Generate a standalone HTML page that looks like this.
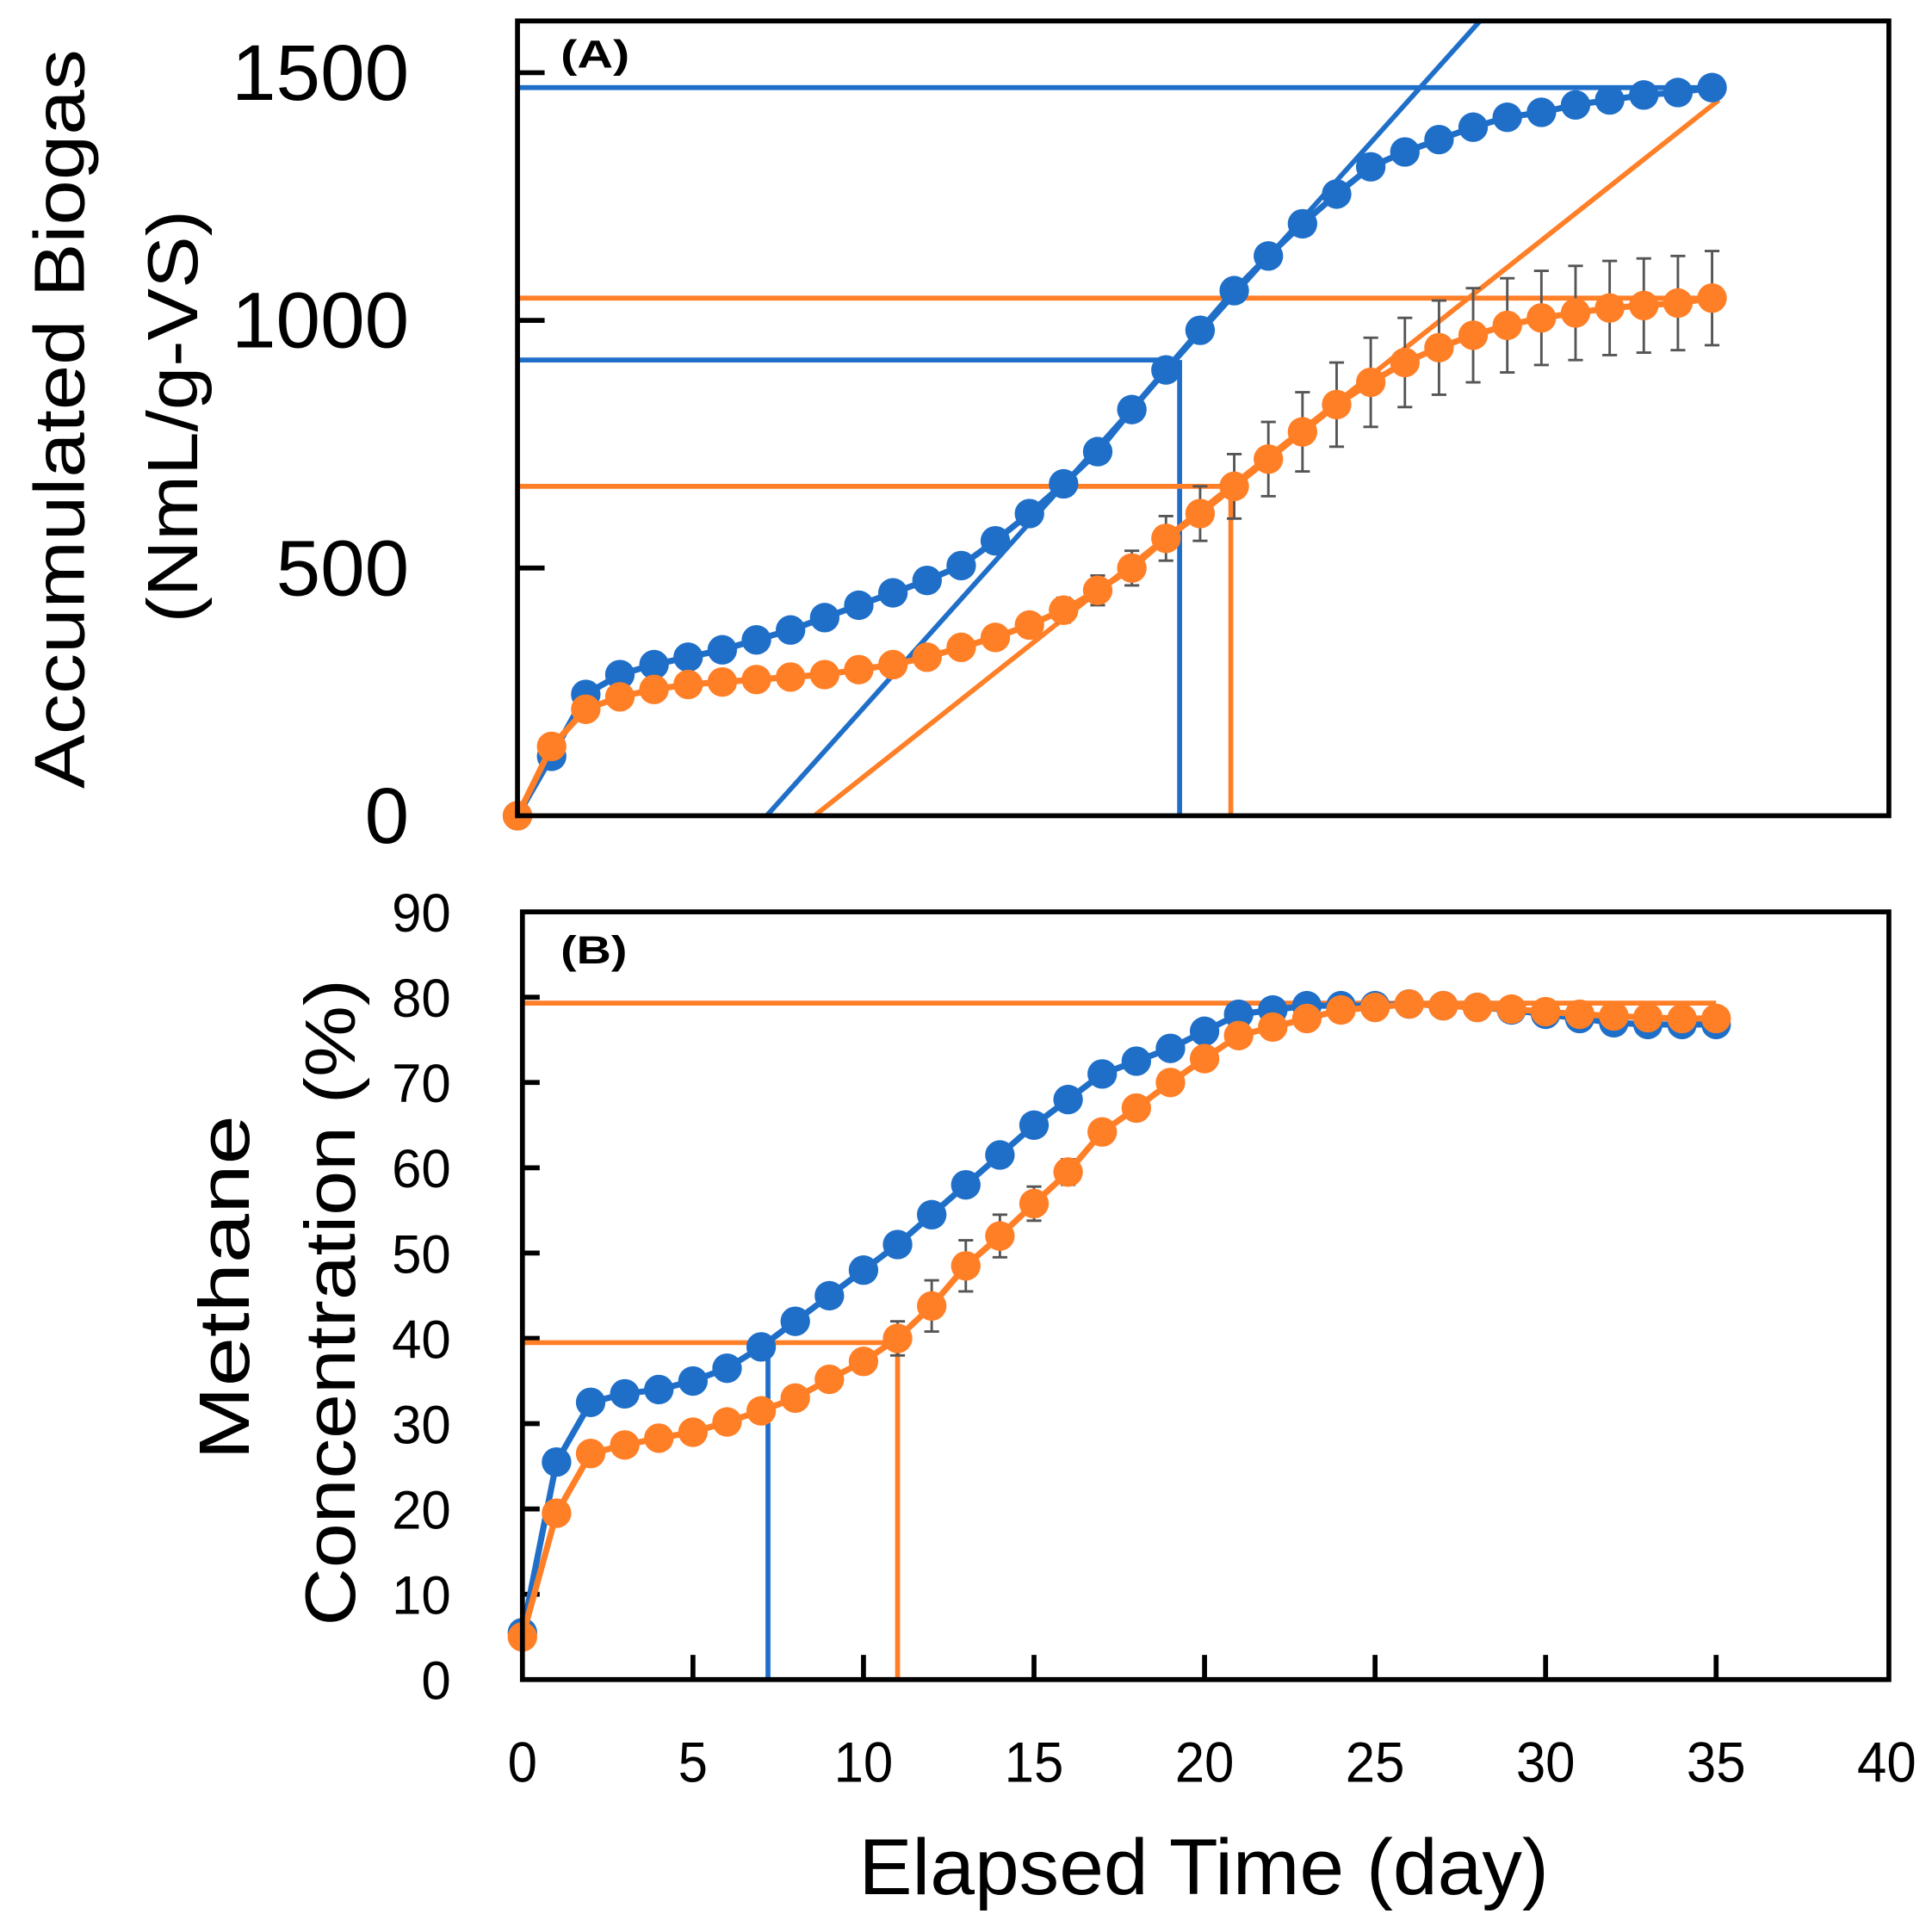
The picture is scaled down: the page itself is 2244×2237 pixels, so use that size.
<!DOCTYPE html>
<html><head><meta charset="utf-8"><style>html,body{margin:0;padding:0;background:#fff}svg{display:block}text{font-family:"Liberation Sans",sans-serif}</style></head>
<body>
<svg id="c" width="2244" height="2237" viewBox="0 0 1568 1563" preserveAspectRatio="none" xmlns="http://www.w3.org/2000/svg"></svg>
<script>
const days=[0,1,2,3,4,5,6,7,8,9,10,11,12,13,14,15,16,17,18,19,20,21,22,23,24,25,26,27,28,29,30,31,32,33,34,35];
const biogasBlue=[0,120,245,285,305,320,335,355,375,400,425,450,475,505,555,610,670,735,820,900,980,1060,1130,1195,1255,1310,1340,1365,1390,1410,1420,1435,1445,1455,1460,1470];
const biogasOrange=[0,140,215,240,255,265,270,275,280,285,295,305,320,340,360,385,415,455,500,560,610,665,720,775,830,875,915,945,970,990,1005,1015,1025,1030,1035,1045];
const biogasOrangeErr=[0,0,0,0,0,0,0,0,0,0,0,0,0,10,15,20,25,30,35,45,55,65,75,80,85,90,90,95,95,95,95,95,95,95,95,95];
const ch4Blue=[5.5,25.5,32.5,33.5,34,35,36.5,39,42,45,48,51,54.5,58,61.5,65,68,71,72.5,74,76,78,78.5,79,79,79,79.2,79,78.8,78.5,78,77.5,77,76.8,76.8,76.8];
const ch4Orange=[5,19.5,26.5,27.5,28.3,29,30.2,31.5,33,35.2,37.3,40,43.8,48.5,52,55.8,59.5,64.2,67,70,72.8,75.5,76.5,77.5,78.5,78.8,79.2,79,78.8,78.6,78.3,78,77.8,77.6,77.5,77.5];
const ch4OrangeErr=[0,0,0,0,0,0,0,0,0,0,0,2,3,3,2.5,2,1.5,1,0,0,0,0,0,0,0,0,0,0,0,0,0,0,0,0,0,0];
const biogasTicks=[0,500,1000,1500];
const ch4Ticks=[0,10,20,30,40,50,60,70,80,90];
const xTicks=[0,5,10,15,20,25,30,35,40];
const refA={blueMax:1470,blueMid:920,blueDay:19.4,blueLag:7.3,blueTopDay:28.2,orangeMax:1045,orangeMid:665,orangeDay:20.9,orangeLag:8.7,orangeEndDay:35.2,orangeEndVal:1445};
const refB={plateau:79.3,half:39.5,blueDay:7.2,orangeDay:11};

const BLUE='#1f6fc9',OR='#ff7f27',NS='http://www.w3.org/2000/svg',svg=document.getElementById('c');
function el(t,a,p){const e=document.createElementNS(NS,t);for(const k in a)e.setAttribute(k,a[k]);(p||svg).appendChild(e);return e;}
const xA=d=>420+d*27.7, yA=v=>662-v*0.402;
const xB=d=>424+d*27.68, yB=v=>1363-v*6.922;

function series(xs,ys,xf,yf,col,name){
  const g=el('g',{});
  el('polyline',{points:xs.map((d,i)=>xf(d)+','+yf(ys[i])).join(' '),fill:'none',stroke:col,'stroke-width':5},g);
  xs.forEach((d,i)=>{const c=el('circle',{cx:xf(d),cy:yf(ys[i]),r:12,fill:col},g);
    });
}
function errs(xs,ys,es,xf,yf,name){
  xs.forEach((d,i)=>{if(!es[i])return;const x=xf(d),a=yf(ys[i]+es[i]),b=yf(ys[i]-es[i]);
    const g=el('g',{stroke:'#555','stroke-width':2});
    el('line',{x1:x,x2:x,y1:a,y2:b},g);el('line',{x1:x-6,x2:x+6,y1:a,y2:a},g);el('line',{x1:x-6,x2:x+6,y1:b,y2:b},g);});
}
function line(x1,y1,x2,y2,col,w,name){const l=el('line',{x1,y1,x2,y2,stroke:col,'stroke-width':w});}
function text(x,y,s,size,name,anchor,extra){const t=el('text',Object.assign({x,y,'font-size':size,'text-anchor':anchor||'end',fill:'#000'},extra||{}));t.textContent=s;return t;}
const sq=(w)=>({textLength:w,lengthAdjust:'spacingAndGlyphs'});

// Panel A
biogasTicks.forEach(v=>{if(v>0)line(420,yA(v),442,yA(v),'#000',4,'y-tick-a');
  const s=String(v);text(332,yA(v)+22,s,64,'y-tick-label-a','end',sq(s.length*36));});
line(420,yA(refA.blueMax),xA(35),yA(refA.blueMax),BLUE,4,'blue-max-line');
line(420,yA(refA.blueMid),xA(refA.blueDay),yA(refA.blueMid),BLUE,4,'blue-mid-line');
line(xA(refA.blueDay),yA(refA.blueMid),xA(refA.blueDay),662,BLUE,4,'blue-time-line');
line(xA(refA.blueLag),662,xA(refA.blueTopDay),17,BLUE,4,'blue-tangent');
line(420,yA(refA.orangeMax),xA(35.3),yA(refA.orangeMax),OR,4,'orange-max-line');
line(420,yA(refA.orangeMid),xA(refA.orangeDay),yA(refA.orangeMid),OR,4,'orange-mid-line');
line(xA(refA.orangeDay),yA(refA.orangeMid),xA(refA.orangeDay),662,OR,4,'orange-time-line');
line(xA(refA.orangeLag),662,xA(refA.orangeEndDay),yA(refA.orangeEndVal),OR,4,'orange-tangent');
errs(days,biogasOrange,biogasOrangeErr,xA,yA,'error-bar-a');
series(days,biogasBlue,xA,yA,BLUE,'biogas-blue-series');
series(days,biogasOrange,xA,yA,OR,'biogas-orange-series');
const fa=el('rect',{x:420,y:17,width:1113,height:645,fill:'none',stroke:'#000','stroke-width':4});
text(455,55,'(A)',32,'panel-a-label','start',Object.assign({'font-weight':'bold'},sq(56)));
const T={'font-family':'DejaVu Sans, sans-serif'};
text(0,0,'Accumulated Biogas',58,'y-axis-title-a','middle',Object.assign({transform:'translate(68,340) rotate(-90)'},T,sq(600)));
text(0,0,'(NmL/g-VS)',58,'y-axis-title-a2','middle',Object.assign({transform:'translate(160,338) rotate(-90)'},T,sq(335)));

// Panel B
ch4Ticks.forEach(v=>{if(v>0&&v<90)line(424,yB(v),438,yB(v),'#000',4,'y-tick-b');
  const s=String(v);text(366,yB(v)+16,s,44,'y-tick-label-b','end',sq(s.length*24));});
xTicks.forEach(d=>{if(d>0&&d<40)line(xB(d),1363,xB(d),1343,'#000',4,'x-tick');
  const s=String(d);text(xB(d),1446,s,46,'x-tick-label','middle',sq(s.length*24));});
line(424,yB(refB.plateau),xB(35),yB(refB.plateau),OR,4,'plateau-line');
line(424,yB(refB.half),xB(refB.orangeDay),yB(refB.half),OR,4,'half-line');
line(xB(refB.blueDay),yB(refB.half),xB(refB.blueDay),1363,BLUE,4,'blue-half-time');
line(xB(refB.orangeDay),yB(refB.half),xB(refB.orangeDay),1363,OR,4,'orange-half-time');
errs(days,ch4Orange,ch4OrangeErr,xB,yB,'error-bar-b');
series(days,ch4Blue,xB,yB,BLUE,'ch4-blue-series');
series(days,ch4Orange,xB,yB,OR,'ch4-orange-series');
const fb=el('rect',{x:424,y:740,width:1109,height:623,fill:'none',stroke:'#000','stroke-width':4});
text(455,782,'(B)',32,'panel-b-label','start',Object.assign({'font-weight':'bold'},sq(54)));
text(0,0,'Methane',58,'y-axis-title-b','middle',Object.assign({transform:'translate(202,1045) rotate(-90)'},T,sq(280)));
text(0,0,'Concentration (%)',58,'y-axis-title-b2','middle',Object.assign({transform:'translate(288,1057) rotate(-90)'},T,sq(525)));
text(977,1537,'Elapsed Time (day)',64,'x-axis-title','middle',sq(560));
</script>
</body></html>
